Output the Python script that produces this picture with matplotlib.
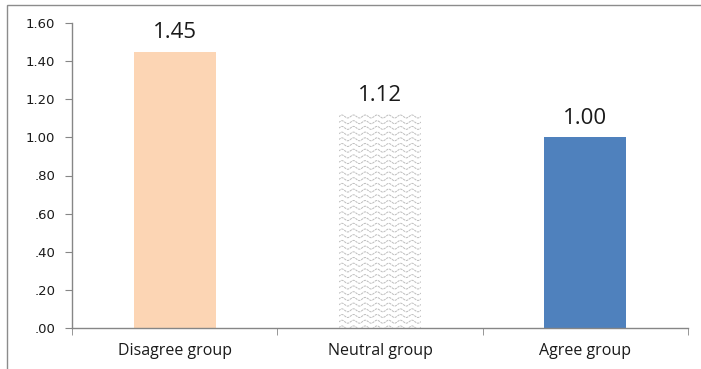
import numpy as np
import matplotlib
matplotlib.use("Agg")
import matplotlib.pyplot as plt
from matplotlib.patches import Rectangle
from matplotlib.ticker import FuncFormatter

groups = ["Disagree group", "Neutral group", "Agree group"]
values = [1.45, 1.12, 1.00]
yticks = [0.0, 0.2, 0.4, 0.6, 0.8, 1.0, 1.2, 1.4, 1.6]

W, H = 701, 369
fig = plt.figure(figsize=(W / 100, H / 100), dpi=100)
fig.patch.set_facecolor("white")

# outer chart frame (left and top edges visible)
fig.patches.append(Rectangle((7 / W, -0.1), 1.2, 1 - 5 / H + 0.1,
                             transform=fig.transFigure, fill=False,
                             edgecolor="#8c8c8c", linewidth=1.0))

ax = fig.add_axes([72 / W, 1 - 328 / H, (688 - 72) / W, (328 - 23) / H])
x = np.arange(len(groups))
colors = ["#fcd5b4", "white", "#4f81bd"]
bars = ax.bar(x, values, width=0.4, color=colors, linewidth=0, zorder=2)
ax.set_xlim(-0.5, len(groups) - 0.5)
ax.set_ylim(0, 1.6)

# wavy fill pattern for the neutral bar, clipped to the bar
fig.canvas.draw()
nb = bars[1]
bb = nb.get_window_extent()
px = np.linspace(bb.x0 - 6, bb.x1 + 6, 400)
inv = ax.transData.inverted()
yy = bb.y1 - 2
while yy > bb.y0 - 5:
    py = yy + 1.5 * np.sin(2 * np.pi * (px - bb.x0) / 11.7)
    pts = inv.transform(np.column_stack([px, py]))
    ln, = ax.plot(pts[:, 0], pts[:, 1], color="#bdbdbd", linewidth=0.7,
                  linestyle=(0, (2.5, 0.8)), zorder=3)
    ln.set_clip_path(nb)
    yy -= 5.7

for xi, v in zip(x, values):
    ax.text(xi, v + 0.045, f"{v:.2f}", ha="center", va="bottom",
            fontsize=16, family="Open Sans", color="#1a1a1a")

ax.set_yticks(yticks)
ax.yaxis.set_major_formatter(FuncFormatter(
    lambda v, p: f"{v:.2f}".lstrip("0") if v < 1 else f"{v:.2f}"))
ax.set_xticks(x)
ax.set_xticklabels(groups, fontsize=11.5, family="Open Sans", color="#1a1a1a")
ax.set_xticks([-0.5, 0.5, 1.5, 2.5], minor=True)
ax.tick_params(axis="x", which="major", length=0, pad=11)
ax.tick_params(axis="x", which="minor", length=5, color="#868686", direction="out")
ax.tick_params(axis="y", length=5, color="#868686", direction="out",
               labelsize=9.5, labelcolor="#1a1a1a", pad=7)

for s in ["top", "right"]:
    ax.spines[s].set_visible(False)
for s in ["left", "bottom"]:
    ax.spines[s].set_color("#868686")
    ax.spines[s].set_linewidth(1.0)

fig.savefig("out.png", dpi=100)
